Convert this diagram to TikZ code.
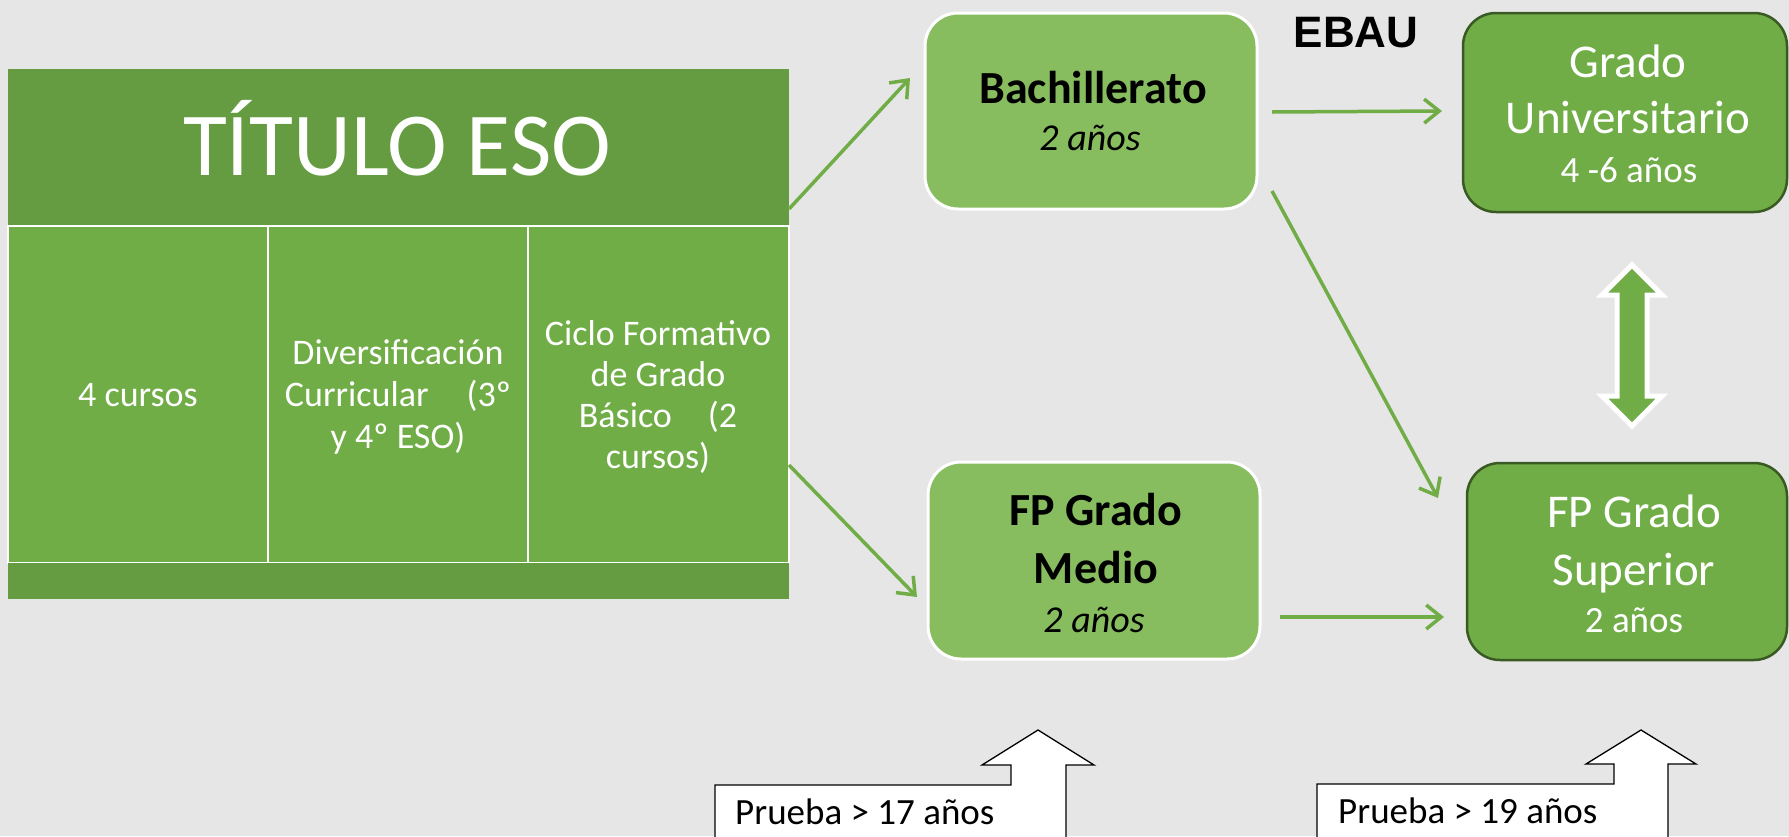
\documentclass[tikz,border=0pt]{standalone}
\usepackage{fontspec}
\setmainfont{Carlito}
\newfontfamily\arialfont{Liberation Sans}
\usetikzlibrary{arrows.meta}
\definecolor{bgc}{HTML}{E7E6E6}
\definecolor{dkg}{HTML}{659C41}
\definecolor{midg}{HTML}{70AD47}
\definecolor{ltg}{HTML}{88BD5F}
\definecolor{brd}{HTML}{3A5A23}
\tikzset{
  band/.style={draw=none, fill=dkg, inner sep=0, outer sep=0},
  cell/.style={draw=white, line width=2.5pt, fill=midg, inner sep=0, outer sep=0},
  lightbox/.style={draw=white, line width=3pt, fill=ltg, rounded corners=33pt, inner sep=0, outer sep=0},
  darkbox/.style={draw=brd, line width=2.5pt, fill=midg, rounded corners=33pt, inner sep=0, outer sep=0},
  txt/.style={align=center, inner sep=0, anchor=base},
  conn/.style={draw=midg, line width=3.5pt, -{Straight Barb[length=15pt,width=24pt]}},
  callout/.style={draw=black, line width=1.3pt, fill=white, line join=miter},
  dbl/.style={draw=white, line width=5pt, fill=midg, line join=miter}
}
\begin{document}
\begin{tikzpicture}[x=1pt,y=-1pt]
\fill[bgc] (0,0) rectangle (1789,836);
\useasboundingbox (0,0) rectangle (1789,836);
\begin{scope}
\clip (0,0) rectangle (1789,836);
% table
\node[band, minimum width=781pt, minimum height=157pt] (title) at (398.5,147.5) {};
\node[txt, text=white, font=\fontsize{90pt}{100pt}\selectfont] (titletext) at (397,175) {TÍTULO ESO};
\node[cell, minimum width=260pt, minimum height=337pt] (c1) at (138,394.5) {};
\node[cell, minimum width=260pt, minimum height=337pt] (c2) at (398,394.5) {};
\node[cell, minimum width=261pt, minimum height=337pt] (c3) at (658.5,394.5) {};
\node[band, minimum width=781pt, minimum height=36pt] (bottom) at (398.5,581) {};
\node[txt, text=white, font=\fontsize{36pt}{42pt}\selectfont] (t1) at (138,406) {4 cursos};
\node[txt, text=white, font=\fontsize{36pt}{42pt}\selectfont] (t2) at (398,448) {Diversificación\\Curricular\hspace*{38pt}(3º\\y 4º ESO)};
\node[txt, text=white, font=\fontsize{36pt}{41pt}\selectfont] (t3) at (658,468) {Ciclo Formativo\\de Grado\\Básico\hspace*{36pt}(2\\cursos)};
% boxes
\node[lightbox, minimum width=332pt, minimum height=196pt] (bach) at (1091,111) {};
\node[txt, font=\bfseries\fontsize{46pt}{50pt}\selectfont] (bacht) at (1093,103) {Bachillerato};
\node[txt, font=\itshape\fontsize{38pt}{44pt}\selectfont] (bachy) at (1090,150) {2 años};
\node[lightbox, minimum width=332pt, minimum height=197pt] (fpm) at (1094,560.5) {};
\node[txt, font=\bfseries\fontsize{46pt}{58pt}\selectfont] (fpmt) at (1096,583) {FP Grado\\Medio};
\node[txt, font=\itshape\fontsize{38pt}{44pt}\selectfont] (fpmy) at (1094,632) {2 años};
\node[darkbox, minimum width=324pt, minimum height=199pt] (gu) at (1625,112.5) {};
\node[txt, text=white, font=\fontsize{47pt}{56pt}\selectfont] (gut) at (1628,133) {Grado\\Universitario};
\node[txt, text=white, font=\fontsize{37pt}{44pt}\selectfont] (guy) at (1629,182) {4 -6 años};
\node[darkbox, minimum width=320pt, minimum height=197pt] (fps) at (1627,561.5) {};
\node[txt, text=white, font=\fontsize{47pt}{58pt}\selectfont] (fpst) at (1634,585) {FP Grado\\Superior};
\node[txt, text=white, font=\fontsize{37pt}{44pt}\selectfont] (fpsy) at (1634,632) {2 años};
\node[txt, font=\arialfont\bfseries\fontsize{44pt}{50pt}\selectfont] (ebau) at (1356,47) {EBAU};
% connectors
\draw[conn] ([yshift=-61.5pt]title.east) -- ([xshift=-15pt,yshift=33pt]bach.west);
\draw[conn] ([yshift=-70.5pt]c3.east) -- ([xshift=-11pt,yshift=-36.5pt]fpm.west);
\draw[conn] ([xshift=15pt,yshift=-1pt]bach.east) -- ([xshift=-21pt,yshift=1.5pt]gu.west);
\draw[conn] ([xshift=15pt,yshift=18pt]bach.south east) -- ([xshift=-29pt,yshift=-35pt]fps.north west);
\draw[conn] ([xshift=20pt,yshift=-56.5pt]fpm.east) -- ([xshift=-23pt,yshift=-55.5pt]fps.west);
% double arrow
\draw[dbl] (1632,265) -- (1662,295) -- (1647,295) -- (1647,396) -- (1662,396) -- (1632,426) -- (1602,396) -- (1617,396) -- (1617,295) -- (1602,295) -- cycle;
% callouts
\draw[callout] (715,845) -- (715,785) -- (1011,785) -- (1011,765) -- (982,765) -- (1038,730) -- (1094,765) -- (1066,765) -- (1066,845);
\node[txt, anchor=base west, font=\fontsize{37pt}{44pt}\selectfont] (p17) at (735,824) {Prueba > 17 años};
\draw[callout] (1317,845) -- (1317,784) -- (1614,784) -- (1614,764) -- (1586,764) -- (1641,730) -- (1696,764) -- (1668,764) -- (1668,845);
\node[txt, anchor=base west, font=\fontsize{37pt}{44pt}\selectfont] (p19) at (1338,823) {Prueba > 19 años};
\end{scope}
\end{tikzpicture}
\end{document}
